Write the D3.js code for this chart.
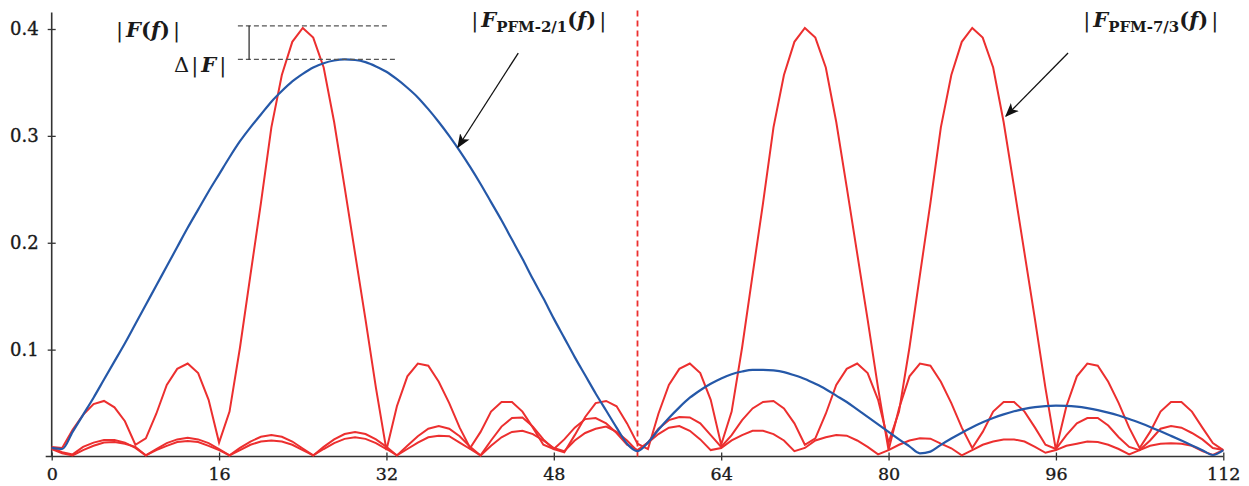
<!DOCTYPE html>
<html>
<head>
<meta charset="utf-8">
<script src="https://cdn.jsdelivr.net/npm/d3@7/dist/d3.min.js"></script>
<style>
  body { margin: 0; background: #fff; }
  svg { display: block; }
  text { font-family: "DejaVu Serif", serif; fill: #1a1a1a; }
</style>
</head>
<body>
<div id="chart"></div>
<script>
// frequency bins (x axis)
const freq = [
  0, 1, 2, 3, 4, 5, 6, 7, 8, 9, 10, 11, 12, 13, 14, 15, 16, 17, 18, 19,
  20, 21, 22, 23, 24, 25, 26, 27, 28, 29, 30, 31, 32, 33, 34, 35, 36, 37, 38, 39,
  40, 41, 42, 43, 44, 45, 46, 47, 48, 49, 50, 51, 52, 53, 54, 55, 56, 57, 58, 59,
  60, 61, 62, 63, 64, 65, 66, 67, 68, 69, 70, 71, 72, 73, 74, 75, 76, 77, 78, 79,
  80, 81, 82, 83, 84, 85, 86, 87, 88, 89, 90, 91, 92, 93, 94, 95, 96, 97, 98, 99,
  100, 101, 102, 103, 104, 105, 106, 107, 108, 109, 110, 111, 112
];

// |F_PFM-2/1(f)|  (blue)
const pfm21 = [
  0.008, 0.007, 0.023, 0.039, 0.055, 0.072, 0.089, 0.106, 0.124, 0.142,
  0.160, 0.178, 0.196, 0.214, 0.231, 0.248, 0.264, 0.280, 0.295, 0.308,
  0.320, 0.332, 0.342, 0.351, 0.358, 0.364, 0.368, 0.3705, 0.3715, 0.371,
  0.369, 0.365, 0.360, 0.353, 0.345, 0.336, 0.325, 0.313, 0.300, 0.286,
  0.271, 0.255, 0.238, 0.221, 0.203, 0.185, 0.166, 0.148, 0.129, 0.111,
  0.093, 0.076, 0.059, 0.043, 0.027, 0.012, 0.005, 0.013, 0.025, 0.036,
  0.046, 0.055, 0.062, 0.068, 0.073, 0.077, 0.0795, 0.081, 0.081, 0.0805,
  0.079, 0.076, 0.0725, 0.068, 0.063, 0.057, 0.051, 0.044, 0.037, 0.030,
  0.023, 0.016, 0.0095, 0.003, 0.0046, 0.0109, 0.0168, 0.0223, 0.0274, 0.0320,
  0.0360, 0.0394, 0.0423, 0.0446, 0.0462, 0.0472, 0.0476, 0.0474, 0.0466, 0.0452,
  0.0434, 0.0411, 0.0383, 0.0351, 0.0315, 0.0277, 0.0236, 0.0193, 0.0149, 0.0104,
  0.0059, 0.0014, 0.006
];

// |F_PFM-7/3(f)| components (red), main lobes at 24, 72 and 88
const pfm73a = [
  0.009, 0.008, 0.025, 0.039, 0.049, 0.052, 0.046, 0.033, 0.011, 0.017,
  0.040, 0.067, 0.082, 0.087, 0.078, 0.053, 0.013, 0.042, 0.102, 0.170,
  0.237, 0.308, 0.357, 0.388, 0.401, 0.392, 0.364, 0.313, 0.252, 0.190,
  0.128, 0.064, 0.006, 0.047, 0.075, 0.087, 0.085, 0.070, 0.050, 0.027,
  0.008, 0.023, 0.042, 0.051, 0.051, 0.042, 0.027, 0.011, 0.007, 0.016,
  0.027, 0.035, 0.036, 0.031, 0.022, 0.011, 0.006, 0.013, 0.021, 0.027,
  0.0285, 0.024, 0.016, 0.006, 0.008, 0.015, 0.020, 0.024, 0.024, 0.021,
  0.015, 0.005, 0.008, 0.015, 0.018, 0.020, 0.0195, 0.015, 0.009, 0.002,
  0.006, 0.011, 0.015, 0.017, 0.0167, 0.012, 0.0077, 0.001, 0.006, 0.011,
  0.014, 0.016, 0.016, 0.014, 0.009, 0.0035, 0.006, 0.010, 0.012, 0.014,
  0.0135, 0.011, 0.007, 0.002, 0.006, 0.010, 0.012, 0.0123, 0.012, 0.010,
  0.005, 0.0015, 0.006
];

const pfm73b = [
  0.008, 0.004, 0.002, 0.009, 0.013, 0.0155, 0.0155, 0.013, 0.008, 0.001,
  0.007, 0.0125, 0.016, 0.0175, 0.016, 0.0125, 0.007, 0.001, 0.008, 0.014,
  0.0185, 0.020, 0.0185, 0.014, 0.0075, 0.001, 0.009, 0.016, 0.021, 0.023,
  0.021, 0.016, 0.009, 0.001, 0.010, 0.019, 0.026, 0.0285, 0.026, 0.019,
  0.009, 0.001, 0.015, 0.028, 0.036, 0.0365, 0.028, 0.016, 0.007, 0.004,
  0.020, 0.037, 0.050, 0.052, 0.047, 0.031, 0.012, 0.007, 0.040, 0.067,
  0.082, 0.087, 0.078, 0.053, 0.011, 0.042, 0.102, 0.170, 0.237, 0.308,
  0.357, 0.388, 0.401, 0.392, 0.364, 0.313, 0.252, 0.190, 0.128, 0.064,
  0.006, 0.045, 0.075, 0.087, 0.085, 0.070, 0.050, 0.027, 0.008, 0.023,
  0.042, 0.051, 0.051, 0.042, 0.027, 0.011, 0.007, 0.020, 0.031, 0.036,
  0.036, 0.029, 0.018, 0.009, 0.006, 0.015, 0.026, 0.0285, 0.027, 0.022,
  0.016, 0.008, 0.006
];

const pfm73c = [
  0.007, 0.003, 0.001, 0.006, 0.010, 0.013, 0.0135, 0.012, 0.009, 0.001,
  0.006, 0.010, 0.0135, 0.0145, 0.0135, 0.010, 0.006, 0.001, 0.006, 0.011,
  0.014, 0.015, 0.014, 0.011, 0.006, 0.001, 0.007, 0.0125, 0.0165, 0.018,
  0.0165, 0.0125, 0.007, 0.001, 0.007, 0.013, 0.018, 0.0195, 0.019, 0.013,
  0.007, 0.001, 0.010, 0.018, 0.023, 0.024, 0.021, 0.015, 0.008, 0.005,
  0.015, 0.022, 0.026, 0.028, 0.023, 0.015, 0.005, 0.013, 0.026, 0.034,
  0.037, 0.0365, 0.031, 0.020, 0.009, 0.020, 0.034, 0.045, 0.051, 0.052,
  0.045, 0.031, 0.011, 0.017, 0.040, 0.067, 0.082, 0.087, 0.078, 0.053,
  0.013, 0.042, 0.102, 0.170, 0.237, 0.308, 0.357, 0.388, 0.401, 0.392,
  0.364, 0.313, 0.252, 0.190, 0.128, 0.064, 0.006, 0.047, 0.075, 0.087,
  0.085, 0.070, 0.050, 0.027, 0.008, 0.023, 0.042, 0.051, 0.051, 0.042,
  0.027, 0.0125, 0.006
];

const xTicks = [0, 16, 32, 48, 64, 80, 96, 112];
const yTicks = [0.1, 0.2, 0.3, 0.4];
const yTickLabels = ["0.1", "0.2", "0.3", "0.4"];
const splitFreq = 56;
const peakLevel = 0.403;
const blueLevel = 0.3715;

const width = 1249, height = 486;
const red = "#ec2f2f", blue = "#2558a8", axisColor = "#333";

const svg = d3.select("#chart").append("svg")
    .attr("width", width)
    .attr("height", height);

const x = d3.scaleLinear().domain([0, 112]).range([51.7, 1223.3]);
const y = d3.scaleLinear().domain([0, 0.4]).range([456.5, 29]);

// arrow marker
svg.append("defs").append("marker")
    .attr("id", "arrow")
    .attr("viewBox", "0 0 10 10")
    .attr("refX", 9).attr("refY", 5)
    .attr("markerWidth", 14).attr("markerHeight", 14)
    .attr("markerUnits", "userSpaceOnUse")
    .attr("orient", "auto")
    .append("path")
    .attr("d", "M0,1 L10,5 L0,9 L2.5,5 Z")
    .attr("fill", "#111");

// Axes
const xAxis = svg.append("g")
    .attr("transform", `translate(0,${y(0)})`)
    .call(d3.axisBottom(x).tickValues(xTicks).tickSizeOuter(0).tickFormat(d3.format("d")));
xAxis.select(".domain").remove();
xAxis.selectAll(".tick line").attr("y1", -4).attr("y2", 4).attr("stroke", axisColor).attr("stroke-width", 1.3);
xAxis.selectAll(".tick text").attr("y", 23).attr("dy", null)
    .style("font-size", "17.5px").style("font-family", "DejaVu Serif")
    .attr("fill", "#1a1a1a").attr("stroke", "#1a1a1a").attr("stroke-width", 0.35);

const yAxis = svg.append("g")
    .attr("transform", `translate(${x(0)},0)`)
    .call(d3.axisLeft(y).tickValues(yTicks).tickSizeOuter(0).tickFormat((d, i) => yTickLabels[i]));
yAxis.select(".domain").remove();
yAxis.selectAll(".tick line").attr("x1", -4).attr("x2", 4).attr("stroke", axisColor).attr("stroke-width", 1.3);
yAxis.selectAll(".tick text").attr("x", -13).attr("dy", "0.32em")
    .style("font-size", "18px").style("font-family", "DejaVu Serif")
    .attr("fill", "#1a1a1a").attr("stroke", "#1a1a1a").attr("stroke-width", 0.35);

svg.append("line")
    .attr("x1", x(0) - 6).attr("x2", x(112))
    .attr("y1", y(0)).attr("y2", y(0))
    .attr("stroke", axisColor).attr("stroke-width", 1.6);
svg.append("line")
    .attr("x1", x(0)).attr("x2", x(0))
    .attr("y1", y(0)).attr("y2", y(0.4155))
    .attr("stroke", axisColor).attr("stroke-width", 1.6);

// split line
svg.append("line")
    .attr("x1", x(splitFreq)).attr("x2", x(splitFreq))
    .attr("y1", y(0)).attr("y2", y(0.418))
    .attr("stroke", red).attr("stroke-width", 1.8)
    .attr("stroke-dasharray", "6,4");

// Draw lines
const line = d3.line()
    .x((d, i) => x(freq[i]))
    .y(d => y(d));

[pfm73a, pfm73b, pfm73c].forEach(series => {
    svg.append("path")
        .datum(series)
        .attr("fill", "none")
        .attr("stroke", red)
        .attr("stroke-width", 2)
        .attr("stroke-linejoin", "miter")
        .attr("d", line);
});

svg.append("path")
    .datum(pfm21)
    .attr("fill", "none")
    .attr("stroke", blue)
    .attr("stroke-width", 2.2)
    .attr("d", line.curve(d3.curveMonotoneX));

// Delta |F| annotation
svg.append("line")
    .attr("x1", x(17.8)).attr("x2", x(32.15))
    .attr("y1", y(peakLevel)).attr("y2", y(peakLevel))
    .attr("stroke", "#555").attr("stroke-width", 1.2).attr("stroke-dasharray", "5,3");
svg.append("line")
    .attr("x1", x(17.8)).attr("x2", x(33.0))
    .attr("y1", y(blueLevel)).attr("y2", y(blueLevel))
    .attr("stroke", "#555").attr("stroke-width", 1.2).attr("stroke-dasharray", "5,3");
svg.append("line")
    .attr("x1", x(18.87)).attr("x2", x(18.87))
    .attr("y1", y(peakLevel)).attr("y2", y(blueLevel))
    .attr("stroke", "#222").attr("stroke-width", 1.2);

const t1 = svg.append("text")
    .attr("x", x(6.15)).attr("y", y(0.3925))
    .style("font-size", "21px");
t1.append("tspan").text("|");
t1.append("tspan").attr("dx", 3).style("font-style", "italic").style("font-weight", "bold").text("F");
t1.append("tspan").style("font-weight", "bold").text("(");
t1.append("tspan").style("font-style", "italic").style("font-weight", "bold").text("f");
t1.append("tspan").style("font-weight", "bold").text(")");
t1.append("tspan").attr("dx", 3).text("|");

const t2 = svg.append("text")
    .attr("x", x(11.7)).attr("y", y(0.3593))
    .style("font-size", "21px");
t2.append("tspan").text("Δ");
t2.append("tspan").attr("dx", 2).text("|");
t2.append("tspan").attr("dx", 3).style("font-style", "italic").style("font-weight", "bold").text("F");
t2.append("tspan").attr("dx", 3).text("|");

// Series labels
function seriesLabel(xv, yv, sub) {
    const t = svg.append("text")
        .attr("x", x(xv)).attr("y", y(yv))
        .style("font-size", "21px");
    t.append("tspan").text("|");
    t.append("tspan").attr("dx", 3).style("font-style", "italic").style("font-weight", "bold").text("F");
    t.append("tspan").attr("dy", 5).style("font-size", "15px").style("font-weight", "bold").text(sub);
    t.append("tspan").attr("dy", -5).style("font-weight", "bold").text("(");
    t.append("tspan").style("font-style", "italic").style("font-weight", "bold").text("f");
    t.append("tspan").style("font-weight", "bold").text(")");
    t.append("tspan").attr("dx", 3).text("|");
}
seriesLabel(40.1, 0.4019, "PFM-2/1");
seriesLabel(98.6, 0.4019, "PFM-7/3");

// Arrows
function arrow(x1, y1, x2, y2) {
    svg.append("line")
        .attr("x1", x(x1)).attr("y1", y(y1))
        .attr("x2", x(x2)).attr("y2", y(y2))
        .attr("stroke", "#111").attr("stroke-width", 1.3)
        .attr("marker-end", "url(#arrow)");
}
arrow(44.6, 0.3775, 38.84, 0.2896);
arrow(97.16, 0.3775, 91.23, 0.3186);
</script>
</body>
</html>
